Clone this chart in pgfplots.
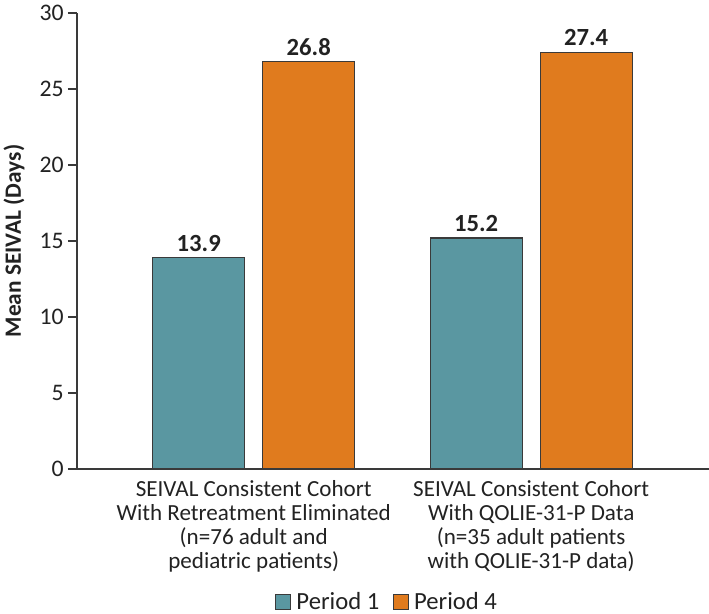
\documentclass[border=0pt]{standalone}
\usepackage{pgfplots}
\pgfplotsset{compat=1.18}
\usepackage{fontspec}
\setmainfont{Carlito}
\definecolor{tealbar}{HTML}{5A97A1}
\definecolor{orangebar}{HTML}{E07B1E}
\definecolor{edgec}{HTML}{3A3A3A}
\definecolor{txt}{HTML}{222222}
\begin{document}
\begin{tikzpicture}
\begin{axis}[
  scale only axis, width=474pt, height=342pt,
  /pgf/number format/assume math mode=true,
  ymin=0, ymax=30, ytick={0,5,...,30},
  xmin=-0.637, xmax=1.641,
  xtick={0,1},
  xticklabels={{SEIVAL Consistent Cohort\\With Retreatment Eliminated\\(n=76 adult and\\pediatric patients)},
               {SEIVAL Consistent Cohort\\With QOLIE-31-P Data\\(n=35 adult patients\\with QOLIE-31-P data)}},
  xticklabel style={align=center, font=\fontsize{17.3}{18}\selectfont, text=txt, inner sep=2pt},
  yticklabel style={font=\fontsize{17.8}{18}\selectfont, text=txt, inner sep=3pt},
  axis x line=bottom, axis y line=left,
  axis line style={-, edgec, line width=0.9pt},
  x tick style={draw=none},
  y tick style={edgec, line width=0.9pt},
  tick align=outside, major tick length=6.75pt,
  ylabel={Mean SEIVAL (Days)},
  ylabel style={font=\bfseries\fontsize{17.5}{18}\selectfont, text=txt, at={(rel axis cs:-0.0997,0.5)}, anchor=center},
  ybar=13.5pt, bar width=69pt,
  nodes near coords,
  nodes near coords style={font=\bfseries\fontsize{18.5}{19}\selectfont, text=txt, yshift=1pt, /pgf/number format/fixed, /pgf/number format/precision=1, /pgf/number format/fixed zerofill},
  legend style={draw=none, legend columns=2, at={(rel axis cs:0.491,-0.2917)}, anchor=center,
    font=\fontsize{18.5}{19}\selectfont, text=txt,
    /tikz/every odd column/.append style={column sep=2pt},
    /tikz/every even column/.append style={column sep=8pt}},
  legend image code/.code={\draw[#1] (0pt,-5.6pt) rectangle (11.25pt,5.6pt);},
]
\addplot[fill=tealbar, draw=edgec, line width=0.9pt] coordinates {(0,13.9) (1,15.2)};
\addplot[fill=orangebar, draw=edgec, line width=0.9pt] coordinates {(0,26.8) (1,27.4)};
\legend{Period 1, Period 4}
\coordinate (SW) at (rel axis cs:0,0);
\coordinate (NE) at (rel axis cs:1,1);
\end{axis}
\pgfresetboundingbox
\path[use as bounding box] ([xshift=-57.75pt,yshift=-108.75pt]SW) rectangle ([yshift=9.75pt]NE);
\end{tikzpicture}
\end{document}
